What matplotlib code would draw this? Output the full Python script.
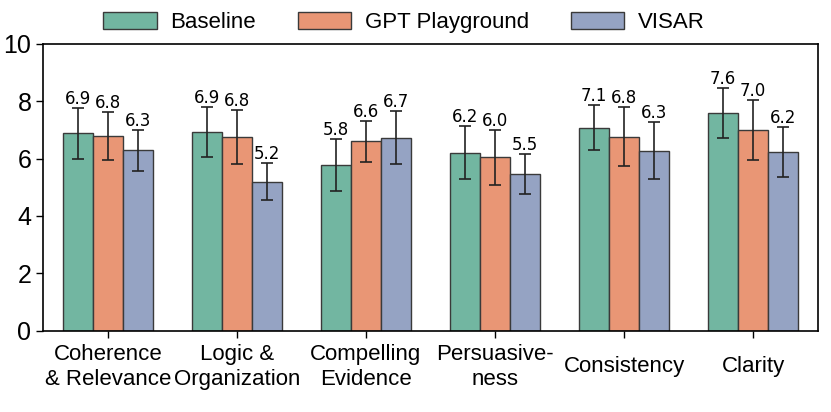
import matplotlib
matplotlib.use("Agg")
import numpy as np
import matplotlib.pyplot as plt
import seaborn as sns

categories = ["Coherence\n& Relevance", "Logic &\nOrganization", "Compelling\nEvidence",
              "Persuasive-\nness", "Consistency", "Clarity"]
series_names = ["Baseline", "GPT Playground", "VISAR"]
baseline = [6.88, 6.93, 5.78, 6.20, 7.08, 7.58]
gpt_playground = [6.79, 6.76, 6.60, 6.04, 6.76, 7.00]
visar = [6.28, 5.20, 6.72, 5.47, 6.27, 6.22]
baseline_err = [0.89, 0.88, 0.91, 0.92, 0.78, 0.86]
gpt_playground_err = [0.83, 0.94, 0.71, 0.97, 1.02, 1.05]
visar_err = [0.70, 0.63, 0.92, 0.70, 0.99, 0.87]

means = [baseline, gpt_playground, visar]
errs = [baseline_err, gpt_playground_err, visar_err]
colors = [sns.desaturate(c, 0.75) for c in sns.color_palette("Set2", 3)]

plt.rcParams["font.family"] = ["Liberation Sans", "DejaVu Sans"]

fig = plt.figure(figsize=(8.31, 4.12), dpi=100)
ax = fig.add_axes([0.052, 0.197, 0.932, 0.697])

x = np.arange(len(categories))
width = 0.7 / 3
for i, (m, e, name) in enumerate(zip(means, errs, series_names)):
    pos = x + (i - 1) * width
    ax.bar(pos, m, width, color=colors[i], edgecolor="#3a3a3a", linewidth=1.0,
           label=name, zorder=2)
    ax.errorbar(pos, m, yerr=e, fmt="none", ecolor="#222222", elinewidth=1.2,
                capsize=4.5, capthick=1.2, zorder=3)
    for px, v, ev in zip(pos, m, e):
        ax.text(px, v + ev, f"{v:.1f}", ha="center", va="bottom",
                fontsize=12, family="DejaVu Sans", zorder=4)

ax.set_xlim(-0.5, 5.5)
ax.set_ylim(0, 10)
ax.set_yticks([0, 2, 4, 6, 8, 10])
ax.set_xticks(x)
ax.set_xticklabels(categories, fontsize=16, va="center")
ax.tick_params(axis="y", labelsize=18, length=5, width=1.0)
ax.tick_params(axis="x", length=5, width=1.0, pad=21)
for s in ax.spines.values():
    s.set_linewidth(1.2)

fig.legend(loc="upper center", bbox_to_anchor=(0.486, 1.02), ncol=3, frameon=False,
           fontsize=16, handlelength=2.4, handleheight=0.8, handletextpad=0.6,
           columnspacing=1.9)

fig.savefig("out.png", dpi=100)
